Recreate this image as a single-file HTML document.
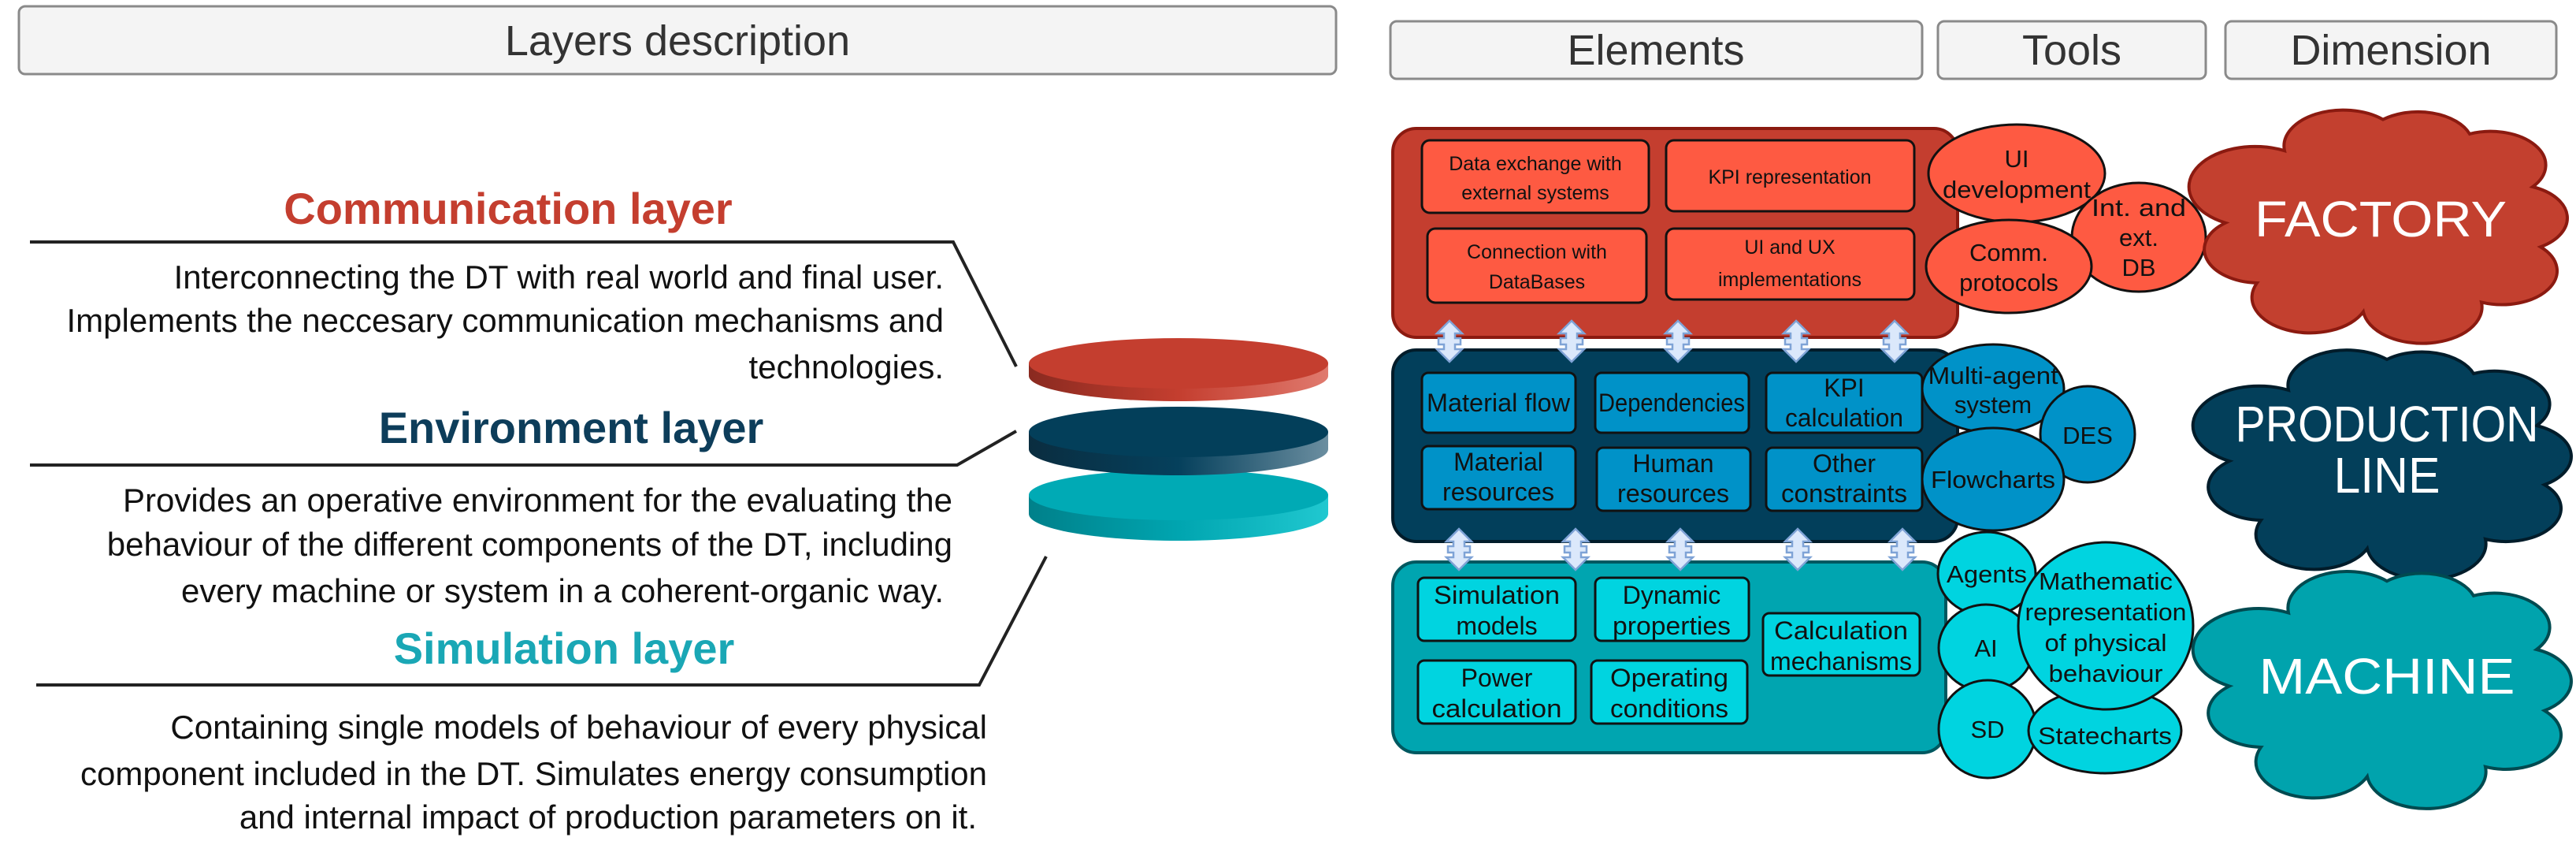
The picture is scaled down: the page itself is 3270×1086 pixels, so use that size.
<!DOCTYPE html>
<html><head><meta charset="utf-8"><style>
html,body{margin:0;padding:0;background:#fff}
svg{display:block}
text{font-family:"Liberation Sans",Arial,sans-serif}
</style></head><body>
<svg width="3270" height="1086" viewBox="0 0 3270 1086" xmlns="http://www.w3.org/2000/svg">
<defs>
<path id="cloud" vector-effect="non-scaling-stroke" stroke-width="4" d="M25,25 A15,15 0 0 1 50,12 A14,14 0 0 1 72,18 A14,14 0 0 1 88,40 A14,14 0 0 1 90,65 A14,14 0 0 1 75,88 A15,15 0 0 1 45,92 A14,14 0 0 1 18,80 A14,14 0 0 1 10,55 A14,14 0 0 1 25,25 Z"/>
<g id="arr"><path d="M0,-26 L16,-10 L7,-10 L7,-4 L14,-4 L14,4 L7,4 L7,10 L16,10 L0,26 L-16,10 L-7,10 L-7,4 L-14,4 L-14,-4 L-7,-4 L-7,-10 L-16,-10 Z" fill="#dbe8fb" stroke="#7fa3d6" stroke-width="2.5"/></g>
<linearGradient id="gr" x1="0" x2="1"><stop offset="0" stop-color="#8a2a20"/><stop offset="0.5" stop-color="#c43e2f"/><stop offset="1" stop-color="#e07a6e"/></linearGradient>
<linearGradient id="gd" x1="0" x2="1"><stop offset="0" stop-color="#0a2d40"/><stop offset="0.5" stop-color="#05405c"/><stop offset="1" stop-color="#6b8ea0"/></linearGradient>
<linearGradient id="gt" x1="0" x2="1"><stop offset="0" stop-color="#00808a"/><stop offset="0.5" stop-color="#00a5b0"/><stop offset="1" stop-color="#20c8d0"/></linearGradient>
</defs>

<g fill="#f4f4f4" stroke="#8a8a8a" stroke-width="3">
<rect x="24" y="8" width="1672" height="86" rx="8"/>
<rect x="1765" y="27" width="675" height="73" rx="8"/>
<rect x="2460" y="27" width="340" height="73" rx="8"/>
<rect x="2825" y="27" width="420" height="73" rx="8"/>
</g>
<g fill="#333" font-size="54" text-anchor="middle">
<text x="860" y="70">Layers description</text>
<text x="2102" y="82">Elements</text>
<text x="2630" y="82">Tools</text>
<text x="3035" y="82">Dimension</text>
</g>

<g font-weight="bold" font-size="56" text-anchor="middle">
<text x="645" y="284" fill="#c43e2f">Communication layer</text>
<text x="725" y="562" fill="#0d3d5a">Environment layer</text>
<text x="716" y="842" fill="#1aa7b5">Simulation layer</text>
</g>
<g fill="none" stroke="#222" stroke-width="4">
<polyline points="38,307 1210,307 1290,465"/>
<polyline points="38,590 1215,590 1290,547"/>
<polyline points="46,869 1243,869 1328,706"/>
</g>
<g fill="#111" font-size="42" text-anchor="end">
<text x="1198" y="366">Interconnecting the DT with real world and final user.</text>
<text x="1198" y="421">Implements the neccesary communication mechanisms and</text>
<text x="1198" y="480">technologies.</text>
<text x="1209" y="649">Provides an operative environment for the evaluating the</text>
<text x="1209" y="705">behaviour of the different components of the DT, including</text>
<text x="1198" y="764">every machine or system in a coherent-organic way.</text>
<text x="1253" y="937">Containing single models of behaviour of every physical</text>
<text x="1253" y="996">component included in the DT. Simulates energy consumption</text>
<text x="1240" y="1051">and internal impact of production parameters on it.</text>
</g>

<g>
<path d="M1306,628 L1306,652 A190,34 0 0 0 1686,652 L1686,628 Z" fill="url(#gt)"/>
<ellipse cx="1496" cy="628" rx="190" ry="32" fill="#00aab5"/>
<path d="M1306,548 L1306,570 A190,33 0 0 0 1686,570 L1686,548 Z" fill="url(#gd)"/>
<ellipse cx="1496" cy="548" rx="190" ry="32" fill="#033f5a"/>
<path d="M1306,461 L1306,477 A190,32 0 0 0 1686,477 L1686,461 Z" fill="url(#gr)"/>
<ellipse cx="1496" cy="461" rx="190" ry="32" fill="#c43e2f"/>
</g>

<rect x="1768" y="163" width="717" height="265" rx="30" fill="#c43e2f" stroke="#8b1a10" stroke-width="4"/>
<rect x="1768" y="444" width="717" height="243" rx="30" fill="#023f5b" stroke="#011c2a" stroke-width="4"/>
<rect x="1768" y="713" width="702" height="242" rx="30" fill="#00a5b0" stroke="#005860" stroke-width="4"/>

<g fill="#fe5a42" stroke="#111" stroke-width="3">
<rect x="1805" y="178" width="288" height="92" rx="10"/>
<rect x="2115" y="178" width="315" height="90" rx="10"/>
<rect x="1812" y="290" width="278" height="94" rx="10"/>
<rect x="2115" y="290" width="315" height="90" rx="10"/>
</g>
<g fill="#111" font-size="25" text-anchor="middle">
<text x="1949" y="216">Data exchange with</text><text x="1949" y="253">external systems</text>
<text x="2272" y="233">KPI representation</text>
<text x="1951" y="328">Connection with</text><text x="1951" y="366">DataBases</text>
<text x="2272" y="322">UI and UX</text><text x="2272" y="363">implementations</text>
</g>

<g fill="#0092c8" stroke="#111" stroke-width="3">
<rect x="1805" y="473" width="195" height="76" rx="8"/>
<rect x="2025" y="473" width="195" height="76" rx="8"/>
<rect x="2242" y="473" width="198" height="76" rx="8"/>
<rect x="1805" y="566" width="195" height="80" rx="8"/>
<rect x="2027" y="568" width="195" height="80" rx="8"/>
<rect x="2242" y="568" width="198" height="80" rx="8"/>
</g>
<g fill="#111" font-size="32" text-anchor="middle">
<text x="1902" y="522" textLength="182" lengthAdjust="spacingAndGlyphs">Material flow</text>
<text x="2122" y="522" textLength="186" lengthAdjust="spacingAndGlyphs">Dependencies</text>
<text x="2341" y="503">KPI</text><text x="2341" y="541" textLength="150" lengthAdjust="spacingAndGlyphs">calculation</text>
<text x="1902" y="597">Material</text><text x="1902" y="635" textLength="142" lengthAdjust="spacingAndGlyphs">resources</text>
<text x="2124" y="599">Human</text><text x="2124" y="637" textLength="142" lengthAdjust="spacingAndGlyphs">resources</text>
<text x="2341" y="599">Other</text><text x="2341" y="637" textLength="160" lengthAdjust="spacingAndGlyphs">constraints</text>
</g>

<g fill="#00d4e0" stroke="#111" stroke-width="3">
<rect x="1800" y="733" width="200" height="80" rx="8"/>
<rect x="2025" y="733" width="195" height="80" rx="8"/>
<rect x="2238" y="778" width="199" height="79" rx="8"/>
<rect x="1800" y="838" width="200" height="80" rx="8"/>
<rect x="2020" y="838" width="198" height="80" rx="8"/>
</g>
<g fill="#111" font-size="32" text-anchor="middle">
<text x="1900" y="766" textLength="160" lengthAdjust="spacingAndGlyphs">Simulation</text><text x="1900" y="805">models</text>
<text x="2122" y="766">Dynamic</text><text x="2122" y="805" textLength="150" lengthAdjust="spacingAndGlyphs">properties</text>
<text x="2337" y="811" textLength="170" lengthAdjust="spacingAndGlyphs">Calculation</text><text x="2337" y="850" textLength="180" lengthAdjust="spacingAndGlyphs">mechanisms</text>
<text x="1900" y="871">Power</text><text x="1900" y="910" textLength="165" lengthAdjust="spacingAndGlyphs">calculation</text>
<text x="2119" y="871" textLength="150" lengthAdjust="spacingAndGlyphs">Operating</text><text x="2119" y="910" textLength="150" lengthAdjust="spacingAndGlyphs">conditions</text>
</g>

<use href="#arr" x="1840" y="433"/><use href="#arr" x="1995" y="433"/><use href="#arr" x="2130" y="433"/><use href="#arr" x="2280" y="433"/><use href="#arr" x="2405" y="433"/>
<use href="#arr" x="1852" y="697"/><use href="#arr" x="2000" y="697"/><use href="#arr" x="2133" y="697"/><use href="#arr" x="2282" y="697"/><use href="#arr" x="2415" y="697"/>

<g fill="#fe5a42" stroke="#111" stroke-width="3">
<ellipse cx="2560" cy="220" rx="112" ry="62"/>
<ellipse cx="2715" cy="301" rx="85" ry="69"/>
<ellipse cx="2550" cy="338" rx="105" ry="59"/>
</g>
<g fill="#111" font-size="31" text-anchor="middle">
<text x="2560" y="212">UI</text><text x="2560" y="251" textLength="188" lengthAdjust="spacingAndGlyphs">development</text>
<text x="2715" y="274" textLength="120" lengthAdjust="spacingAndGlyphs">Int. and</text><text x="2715" y="312">ext.</text><text x="2715" y="350">DB</text>
<text x="2550" y="331">Comm.</text><text x="2550" y="369">protocols</text>
</g>

<g fill="#0092c8" stroke="#111" stroke-width="3">
<ellipse cx="2530" cy="493" rx="90" ry="56"/>
<ellipse cx="2650" cy="551" rx="60" ry="61"/>
<ellipse cx="2530" cy="608" rx="90" ry="65"/>
</g>
<g fill="#111" font-size="31" text-anchor="middle">
<text x="2530" y="487" textLength="165" lengthAdjust="spacingAndGlyphs">Multi-agent</text><text x="2530" y="524">system</text>
<text x="2650" y="563">DES</text>
<text x="2530" y="619" textLength="158" lengthAdjust="spacingAndGlyphs">Flowcharts</text>
</g>

<g fill="#00d4e0" stroke="#111" stroke-width="3">
<ellipse cx="2522" cy="728" rx="62" ry="53"/>
<ellipse cx="2521" cy="822" rx="60" ry="55"/>
<ellipse cx="2523" cy="925" rx="62" ry="62"/>
<ellipse cx="2672" cy="927" rx="97" ry="54"/>
<ellipse cx="2673" cy="794" rx="111" ry="106"/>
</g>
<g fill="#111" font-size="31" text-anchor="middle">
<text x="2522" y="739" textLength="102" lengthAdjust="spacingAndGlyphs">Agents</text>
<text x="2521" y="833">AI</text>
<text x="2523" y="936">SD</text>
<text x="2672" y="944" textLength="170" lengthAdjust="spacingAndGlyphs">Statecharts</text>
<text x="2673" y="748" textLength="170" lengthAdjust="spacingAndGlyphs">Mathematic</text><text x="2673" y="787" textLength="205" lengthAdjust="spacingAndGlyphs">representation</text><text x="2673" y="826" textLength="155" lengthAdjust="spacingAndGlyphs">of physical</text><text x="2673" y="865" textLength="145" lengthAdjust="spacingAndGlyphs">behaviour</text>
</g>

<use href="#cloud" transform="translate(2775,115) scale(5.0,3.05)" fill="#c3402f" stroke="#8b1a10"/>
<use href="#cloud" transform="translate(2780,420) scale(5.0,3.0)" fill="#033f5a" stroke="#011c2a"/>
<use href="#cloud" transform="translate(2780,700) scale(5.0,3.1)" fill="#00a3ad" stroke="#004a50"/>
<g fill="#fff" font-size="64" text-anchor="middle">
<text x="3022" y="300" textLength="320" lengthAdjust="spacingAndGlyphs">FACTORY</text>
<text x="3030" y="560" textLength="385" lengthAdjust="spacingAndGlyphs">PRODUCTION</text><text x="3030" y="625" textLength="135" lengthAdjust="spacingAndGlyphs">LINE</text>
<text x="3030" y="880" textLength="325" lengthAdjust="spacingAndGlyphs">MACHINE</text>
</g>
</svg>
</body></html>
